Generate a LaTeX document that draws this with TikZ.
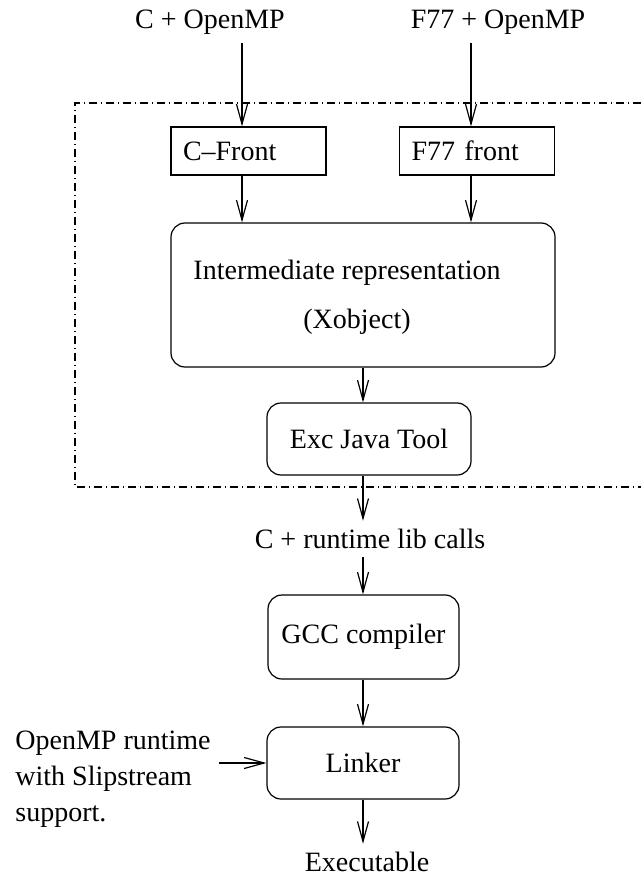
\documentclass[tikz,border=0pt]{standalone}
\usepackage{fontspec}
\setmainfont{Liberation Serif}
\usetikzlibrary{arrows.meta}
\tikzstyle{every node}=[font=\fontsize{14}{18}\selectfont, inner sep=4pt]
\tikzstyle{sqbox}=[draw, line width=0.6pt, minimum height=24pt, text width=65.5pt, inner xsep=6pt, align=left]
\tikzstyle{rbox}=[draw, line width=0.6pt, rounded corners=7pt, align=center]
\tikzstyle{flow}=[line width=0.6pt, -{Straight Barb[length=10pt,width=5.5pt]}]
\tikzstyle{frame}=[line width=0.6pt, dash pattern=on 4pt off 2pt on 0.5pt off 2pt]

\begin{document}
\begin{tikzpicture}[x=0.5pt, y=-0.5pt]
	\useasboundingbox (0,0) rectangle (641,877);
	\draw[frame] (641,103) -- (75,103) -- (75,487) -- (641,487);

	\node (copenmp) at (210,22) {C + OpenMP};
	\node (fopenmp) at (498,22) {F77 + OpenMP};
	\node[sqbox] (cfront) at (248.5,151) {C--Front};
	\node[sqbox] (ffront) at (477,151) {F77 front};
	\node[rbox, minimum width=192pt, minimum height=72pt] (ir) at (363,295) {};
	\node (irtext) at (347,273) {Intermediate representation};
	\node (xobj) at (357,322) {(Xobject)};
	\node[rbox, minimum width=102pt, minimum height=36pt] (exc) at (369,439) {Exc Java Tool};
	\node (rtcalls) at (370,539) {C + runtime lib calls};
	\node[rbox, minimum width=95.5pt, minimum height=42pt] (gcc) at (363.5,637) {GCC compiler};
	\node[rbox, minimum width=96pt, minimum height=36pt] (linker) at (363,763) {Linker};
	\node (exe) at (367,862) {Executable};
	\node[align=left, anchor=west] (rtlib) at (7,779) {OpenMP runtime\\with Slipstream\\support.};

	\coordinate (lanec) at (242,0);
	\coordinate (lanef) at (471,0);
	\coordinate (lanem) at (363,0);

	\draw[flow] (lanec |- copenmp.south) -- (lanec |- cfront.north);
	\draw[flow] (lanef |- fopenmp.south) -- (lanef |- ffront.north);
	\draw[flow] (lanec |- cfront.south) -- (lanec |- ir.north);
	\draw[flow] (lanef |- ffront.south) -- (lanef |- ir.north);
	\draw[flow] (lanem |- ir.south) -- (lanem |- exc.north);
	\draw[flow] (lanem |- exc.south) -- (lanem |- rtcalls.north);
	\draw[flow] (lanem |- rtcalls.south) -- (lanem |- gcc.north);
	\draw[flow] (lanem |- gcc.south) -- (lanem |- linker.north);
	\draw[flow] (lanem |- linker.south) -- (lanem |- exe.north);
	\draw[flow] (rtlib.east |- linker.west) -- (linker.west);
\end{tikzpicture}
\end{document}
